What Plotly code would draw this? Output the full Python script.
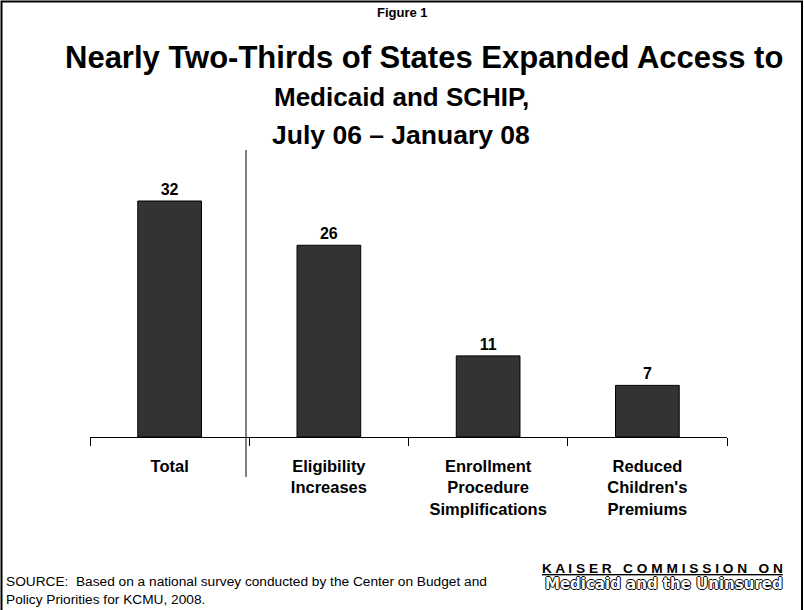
import plotly.graph_objects as go

categories = ["Total", "Eligibility Increases", "Enrollment Procedure Simplifications", "Reduced Children's Premiums"]
tick_labels = ["<b>Total</b>", "<b>Eligibility<br>Increases</b>", "<b>Enrollment<br>Procedure<br>Simplifications</b>", "<b>Reduced<br>Children's<br>Premiums</b>"]
values = [32, 26, 11, 7]

W, H = 804, 610
L, R, T, B = 90, 727, 150, 437

def px(x):
    return (x - L) / (R - L)

def py(y):
    return (B - y) / (B - T)

FONT = "Liberation Sans, Arial, sans-serif"

fig = go.Figure()
fig.add_trace(go.Bar(
    x=categories, y=values, width=0.4,
    marker=dict(color="#333333", line=dict(color="#000000", width=1)),
    text=values, texttemplate="<b>%{text}</b>", textposition="outside",
    textfont=dict(size=16, color="#000000", family=FONT),
    cliponaxis=False,
))

fig.update_layout(
    width=W, height=H,
    margin=dict(l=L, r=W - R, t=T, b=H - B),
    paper_bgcolor="white", plot_bgcolor="white",
    showlegend=False,
    font=dict(family=FONT, color="#000000"),
    bargap=0.6,
)
fig.update_xaxes(
    type="category", tickmode="array", tickvals=categories, ticktext=tick_labels,
    tickson="boundaries", ticks="outside", ticklen=8, tickcolor="#000000", tickwidth=1,
    showline=True, linecolor="#000000", linewidth=1, showgrid=False,
    tickfont=dict(size=16.5, family=FONT, color="#000000"),
    ticklabelstandoff=14,
    range=[-0.5, 3.5],
)
fig.update_yaxes(range=[0, 287 / 7.375], visible=False, showgrid=False)

shapes = []
shapes.append(dict(type="line", xref="paper", yref="paper",
                   x0=px(246), x1=px(246), y0=py(150), y1=py(477),
                   line=dict(color="#000000", width=1)))
shapes.append(dict(type="rect", xref="paper", yref="paper",
                   x0=px(1.5), x1=px(802), y0=py(1.5), y1=py(615),
                   line=dict(color="#000000", width=2)))
fig.update_layout(shapes=shapes)

ann = []
ann.append(dict(text="<b>Figure 1</b>", x=px(402), y=py(13), xref="paper", yref="paper",
                showarrow=False, font=dict(size=13, family=FONT), xanchor="center", yanchor="middle"))
ann.append(dict(text="<b>Nearly Two-Thirds of States Expanded Access to</b>", x=px(63), y=py(58),
                xref="paper", yref="paper", showarrow=False,
                font=dict(size=31, family=FONT), xanchor="left", yanchor="middle"))
for txt, yy, sz in [("Medicaid and SCHIP,", 97, 26),
                    ("July 06 \u2013 January 08", 135, 26.5)]:
    ann.append(dict(text="<b>" + txt + "</b>", x=px(401), y=py(yy), xref="paper", yref="paper",
                    showarrow=False, font=dict(size=sz, family=FONT), xanchor="center", yanchor="middle"))
ann.append(dict(text="SOURCE:  Based on a national survey conducted by the Center on Budget and",
                x=px(4), y=py(581), xref="paper", yref="paper", showarrow=False,
                font=dict(size=13.7, family=FONT), xanchor="left", yanchor="middle"))
ann.append(dict(text="Policy Priorities for KCMU, 2008.",
                x=px(4), y=py(599), xref="paper", yref="paper", showarrow=False,
                font=dict(size=13.7, family=FONT), xanchor="left", yanchor="middle"))
ann.append(dict(text="<b><u>K A I S E R   C O M M I S S I O N   O N</u></b>",
                x=px(785), y=py(568), xref="paper", yref="paper", showarrow=False,
                font=dict(size=13.7, family=FONT), xanchor="right", yanchor="middle"))
ann.append(dict(text="<b>Medicaid and the Uninsured</b>",
                x=px(785), y=py(584), xref="paper", yref="paper", showarrow=False,
                font=dict(size=15, family="DejaVu Sans, sans-serif", color="white",
                          shadow="1px 0 0 #000, -1px 0 0 #000, 0 1px 0 #000, 0 -1px 0 #000"),
                xanchor="right", yanchor="middle"))
fig.update_layout(annotations=ann)

fig.write_html("out.html")
